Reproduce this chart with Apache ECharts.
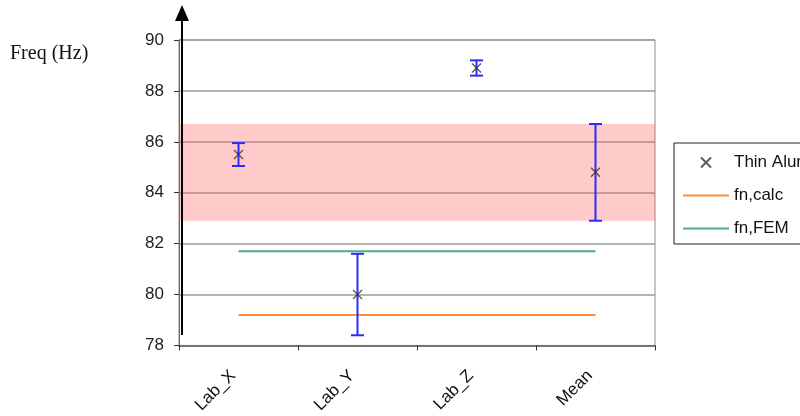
<!DOCTYPE html>
<html>
<head>
<meta charset="utf-8">
<script src="https://cdn.jsdelivr.net/npm/echarts@6/dist/echarts.min.js"></script>
<style>
  html, body { margin: 0; padding: 0; background: #fff; }
  #chart { width: 800px; height: 416px; }
</style>
</head>
<body>
<div id="chart"></div>
<script>
// data
const categories = ['Lab_X', 'Lab_Y', 'Lab_Z', 'Mean']
const freqMeasured = [85.5, 80.0, 88.9, 84.8]
const freqError = [0.45, 1.6, 0.3, 1.9]
const fnCalc = [79.2, 79.2, 79.2, 79.2]
const fnFem = [81.7, 81.7, 81.7, 81.7]
const bandRange = [82.9, 86.7]
const yTicks = { min: 78, max: 90, step: 2 }

const chart = echarts.init(document.getElementById('chart'))

const errData = categories.map((c, i) => [i, freqMeasured[i] - freqError[i], freqMeasured[i] + freqError[i]])

// line entries in the legend: just the stroke, no dot
const noDot = { opacity: 0 }

chart.setOption({
  animation: false,
  grid: { left: 179, right: 145, top: 40, bottom: 69, show: true, borderColor: '#8c8c8c', borderWidth: 1 },
  legend: {
    orient: 'vertical',
    left: 674, top: 143,
    padding: [11, 8, 7, 8],
    itemWidth: 46, itemHeight: 10, itemGap: 16,
    borderColor: '#222', borderWidth: 1,
    textStyle: { fontFamily: 'Liberation Sans, Arial', fontSize: 17, color: '#111' },
    data: [
      { name: 'Thin Aluminium' },
      { name: 'fn,calc', itemStyle: noDot },
      { name: 'fn,FEM', itemStyle: noDot }
    ]
  },
  xAxis: {
    type: 'category',
    data: categories,
    axisLine: { lineStyle: { color: '#666', width: 1.5 } },
    axisTick: { show: true, length: 5, lineStyle: { color: '#333' } },
    axisLabel: { rotate: 45, margin: 22, padding: [0, 8, 0, 0], fontFamily: 'Liberation Sans, Arial', fontSize: 17, color: '#111' },
    splitLine: { show: false }
  },
  yAxis: {
    type: 'value',
    min: yTicks.min, max: yTicks.max, interval: yTicks.step,
    axisLine: { show: true, lineStyle: { color: '#666' } },
    axisTick: { show: true, length: 5, lineStyle: { color: '#333' } },
    axisLabel: { margin: 15, fontFamily: 'Liberation Sans, Arial', fontSize: 17, color: '#222' },
    splitLine: { lineStyle: { color: '#9a9a9a', width: 1.5 } }
  },
  graphic: [
    { type: 'line', shape: { x1: 182, y1: 20, x2: 182, y2: 335 }, style: { stroke: '#000', lineWidth: 2 }, z: 100 },
    { type: 'polygon', shape: { points: [[182, 5], [175, 21], [189, 21]] }, style: { fill: '#000' }, z: 100 },
    { type: 'text', left: 10, top: 44, style: { text: 'Freq (Hz)', font: '20px "Liberation Serif", "Times New Roman", serif', fill: '#111' } }
  ],
  series: [
    {
      name: 'fn,calc',
      type: 'line',
      data: fnCalc,
      symbol: 'none',
      lineStyle: { color: '#ff8c3a', width: 2 },
      itemStyle: { color: '#ff8c3a' },
      z: 2,
      markArea: {
        silent: true,
        itemStyle: { color: 'rgba(255,90,90,0.32)' },
        data: [[{ yAxis: bandRange[0] }, { yAxis: bandRange[1] }]]
      }
    },
    {
      name: 'fn,FEM',
      type: 'line',
      data: fnFem,
      symbol: 'none',
      lineStyle: { color: '#4fae7e', width: 2 },
      itemStyle: { color: '#4fae7e' },
      z: 2
    },
    {
      name: 'errors',
      type: 'custom',
      data: errData,
      z: 3,
      renderItem: (params, api) => {
        const lo = api.coord([api.value(0), api.value(1)])
        const hi = api.coord([api.value(0), api.value(2)])
        const w = 6.5
        const style = { stroke: '#2b2bff', lineWidth: 2 }
        return {
          type: 'group',
          children: [
            { type: 'line', shape: { x1: lo[0], y1: lo[1], x2: hi[0], y2: hi[1] }, style },
            { type: 'line', shape: { x1: lo[0] - w, y1: lo[1], x2: lo[0] + w, y2: lo[1] }, style },
            { type: 'line', shape: { x1: hi[0] - w, y1: hi[1], x2: hi[0] + w, y2: hi[1] }, style }
          ]
        }
      }
    },
    {
      name: 'Thin Aluminium',
      type: 'scatter',
      data: freqMeasured,
      symbol: 'path://M0 0L10 10M10 0L0 10',
      symbolSize: 9,
      itemStyle: { color: 'transparent', borderColor: '#333', borderWidth: 1.4 },
      z: 4
    }
  ]
})
</script>
</body>
</html>
